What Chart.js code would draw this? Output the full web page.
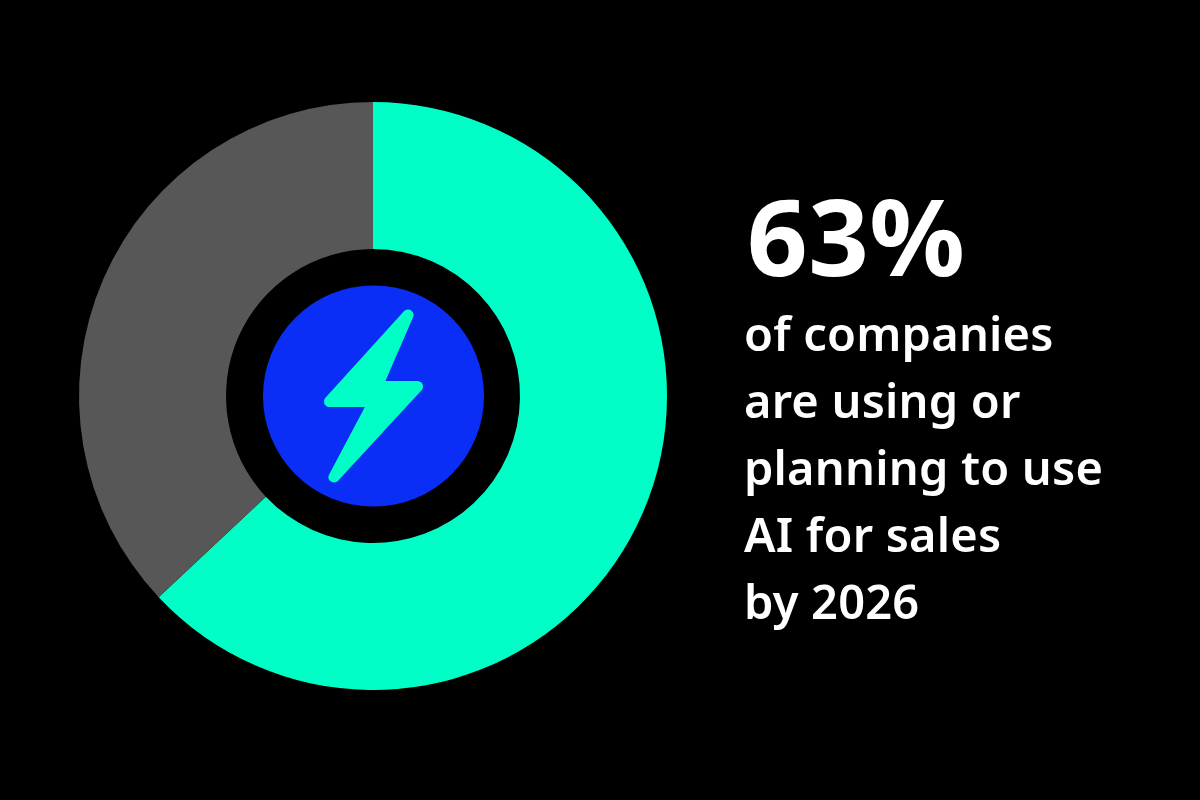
<!DOCTYPE html>
<html>
<head>
<meta charset="utf-8">
<style>
  html, body { margin: 0; background: #000; }
  #wrap { position: relative; width: 1200px; height: 800px; overflow: hidden; background: #000; }
  #chartCanvas { position: absolute; left: 0; top: 0; }
  .txt { position: absolute; color: #fff; font-family: "Noto Sans", sans-serif; white-space: nowrap; }
  #big { left: 747px; top: 163px; font-size: 106px; font-weight: 700; line-height: 144px; letter-spacing: 0.5px; }
  .line { left: 744px; font-size: 47px; font-weight: 600; line-height: 60px; letter-spacing: 0.2px; }
</style>
<script src="https://cdn.jsdelivr.net/npm/chart.js@4"></script>
</head>
<body>
<div id="wrap">
  <canvas id="chartCanvas" width="1200" height="800"></canvas>
  <div class="txt" id="big"></div>
</div>
<script>
const categories = ["Using or planning to use AI for sales", "Others"];
const values = [63, 37];
const sliceColors = ["#00FFC6", "#575757"];
const headline = "63%";
const captionLines = ["of companies", "are using or", "planning to use", "AI for sales", "by 2026"];

document.getElementById("big").textContent = headline;
const wrap = document.getElementById("wrap");
captionLines.forEach((text, i) => {
  const el = document.createElement("div");
  el.className = "txt line";
  el.textContent = text;
  el.style.top = 303 + i * 67 + "px";
  wrap.appendChild(el);
});

// blue disc and bolt icon in the hole of the doughnut
const centerIcon = {
  id: "centerIcon",
  afterDraw(chart) {
    const arc = chart.getDatasetMeta(0).data[0];
    const ctx = chart.ctx;
    ctx.save();
    ctx.translate(arc.x, arc.y);
    ctx.fillStyle = "#0A2EF5";
    ctx.beginPath();
    ctx.arc(0.5, 0, arc.innerRadius * 0.752, 0, Math.PI * 2);
    ctx.fill();

    ctx.fillStyle = "#00FFC6";
    ctx.strokeStyle = "#00FFC6";
    ctx.lineWidth = 11;
    ctx.lineJoin = "round";
    ctx.beginPath();
    ctx.moveTo(35, -81);
    ctx.lineTo(4, -9.5);
    ctx.lineTo(44.5, -9.5);
    ctx.lineTo(-39, 81);
    ctx.lineTo(1, 5.5);
    ctx.lineTo(-43.5, 5.5);
    ctx.closePath();
    ctx.fill();
    ctx.stroke();
    ctx.restore();
  },
};

const ctx = document.getElementById("chartCanvas").getContext("2d");
new Chart(ctx, {
  type: "doughnut",
  data: {
    labels: categories,
    datasets: [
      {
        data: values,
        backgroundColor: sliceColors,
        borderWidth: 0,
      },
    ],
  },
  options: {
    animation: false,
    responsive: false,
    cutout: "50%",
    layout: {
      padding: { left: 79, right: 533, top: 102, bottom: 110 },
    },
    plugins: {
      legend: { display: false },
      tooltip: { enabled: false },
    },
  },
  plugins: [centerIcon],
});
</script>
</body>
</html>
